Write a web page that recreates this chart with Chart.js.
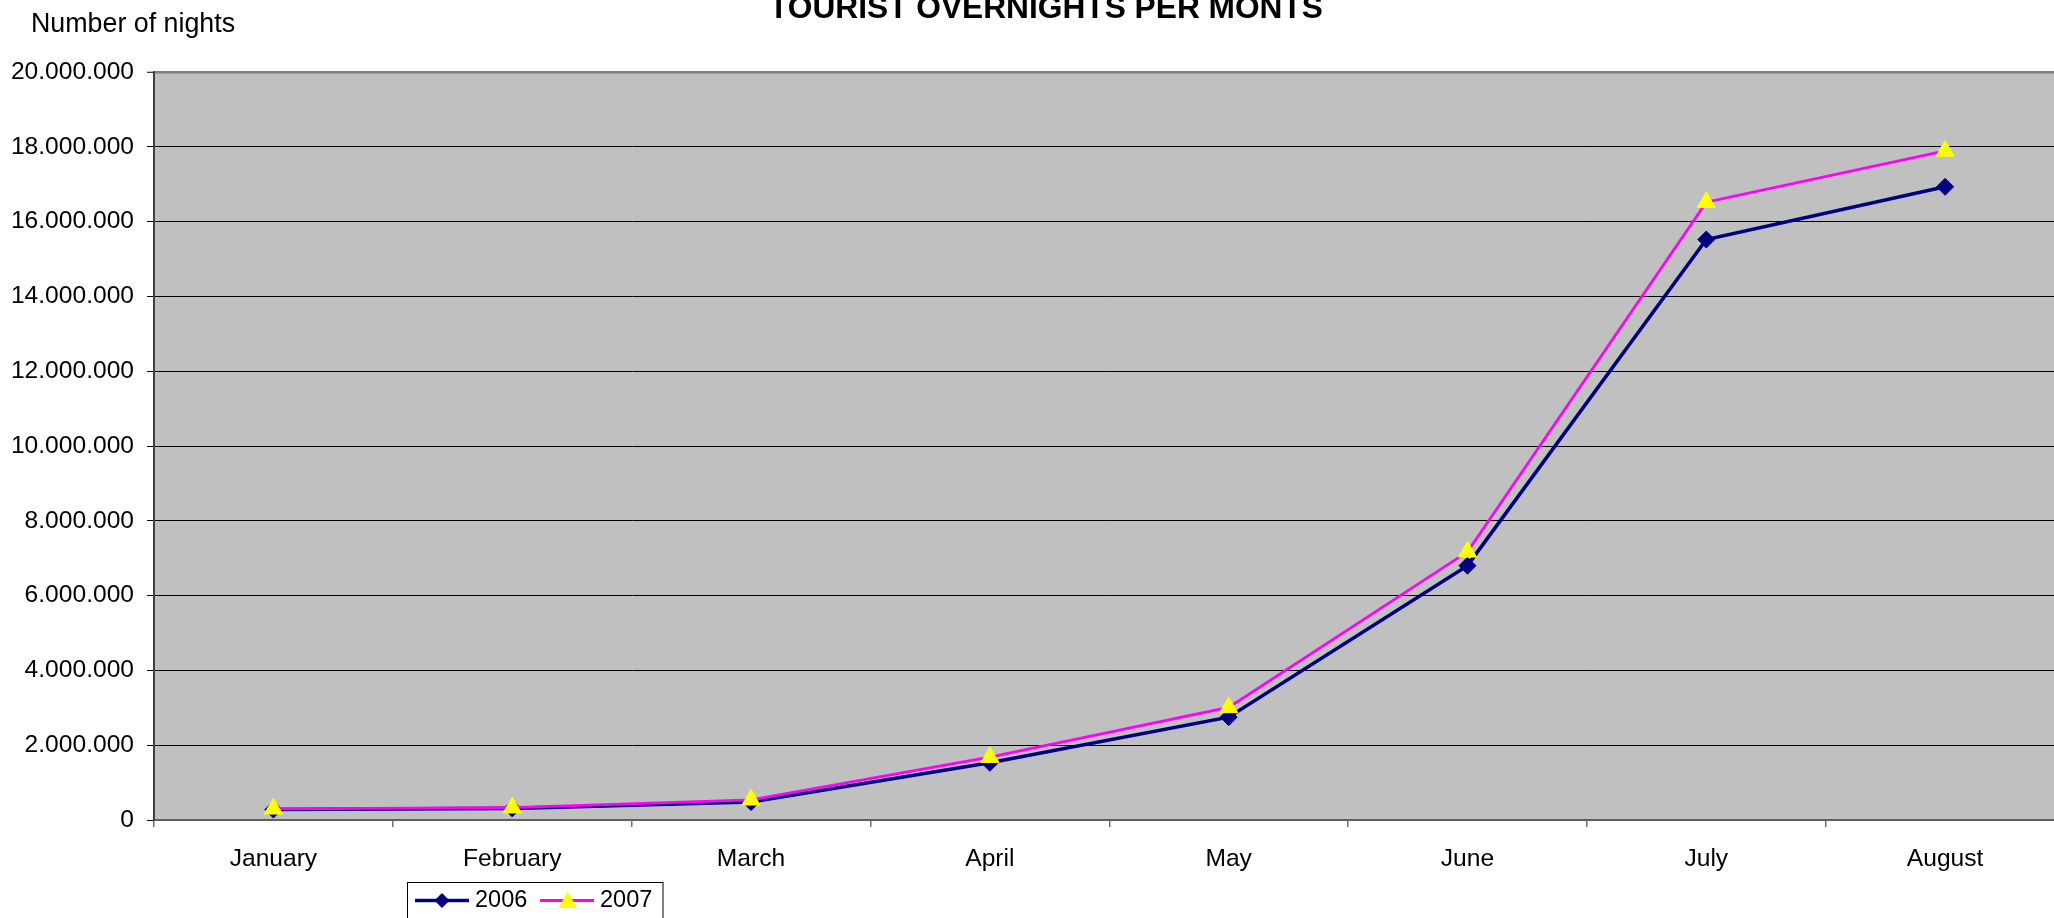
<!DOCTYPE html>
<html>
<head>
<meta charset="utf-8">
<script src="https://cdn.jsdelivr.net/npm/chart.js@4.4.1/dist/chart.umd.min.js"></script>
<style>
  html, body { margin: 0; padding: 0; background: #ffffff; overflow: hidden; }
  #wrap { width: 2080px; height: 918px; }
</style>
</head>
<body>
<div id="wrap"><canvas id="c" width="2080" height="918"></canvas></div>
<script>
// ---- data ----
const months = ['January', 'February', 'March', 'April', 'May', 'June', 'July', 'August'];
const series2006 = [280000, 310000, 480000, 1530000, 2750000, 6800000, 15520000, 16930000];
const series2007 = [300000, 330000, 540000, 1680000, 3010000, 7170000, 16520000, 17890000];
const seriesLabels = ['2006', '2007'];
const chartTitle = 'TOURIST OVERNIGHTS PER MONTS';
const yAxisCaption = 'Number of nights';
const yMin = 0, yMax = 20000000, yStep = 2000000;

const FONT = "'Liberation Sans', Arial, sans-serif";

function fmt(v) {
  return String(v).replace(/\B(?=(\d{3})+(?!\d))/g, '.');
}

function marker(ctx, style, x, y, r) {
  ctx.beginPath();
  if (style === 'triangle') {
    ctx.moveTo(x, y - r);
    ctx.lineTo(x + r * 0.866, y + r / 2);
    ctx.lineTo(x - r * 0.866, y + r / 2);
  } else {
    ctx.moveTo(x - r, y);
    ctx.lineTo(x, y - r);
    ctx.lineTo(x + r, y);
    ctx.lineTo(x, y + r);
  }
  ctx.closePath();
  ctx.fill();
  ctx.stroke();
}

const plotBg = {
  id: 'plotBg',
  beforeDraw(chart) {
    const a = chart.chartArea, ctx = chart.ctx;
    ctx.save();
    ctx.fillStyle = '#C0C0C0';
    ctx.fillRect(a.left, a.top, a.right - a.left, a.bottom - a.top);
    ctx.restore();
  }
};

const texts = {
  id: 'texts',
  afterDraw(chart) {
    const ctx = chart.ctx;
    ctx.save();
    ctx.fillStyle = '#000';
    ctx.textBaseline = 'alphabetic';
    ctx.font = 'bold 31.7px ' + FONT;
    ctx.textAlign = 'center';
    ctx.fillText(chartTitle, 1046, 18.3);
    ctx.font = '26.8px ' + FONT;
    ctx.textAlign = 'left';
    ctx.fillText(yAxisCaption, 31, 31.7);

    // legend box
    ctx.strokeStyle = '#000';
    ctx.lineWidth = 1;
    ctx.strokeRect(407.5, 882.5, 255.5, 60);
    const items = [
      {x0: 415, x1: 469, mx: 442, tx: 475},
      {x0: 540, x1: 594, mx: 567.7, tx: 600}
    ];
    const y = 900.5;
    chart.data.datasets.forEach((ds, i) => {
      const it = items[i];
      ctx.strokeStyle = ds.borderColor;
      ctx.lineWidth = ds.borderWidth;
      ctx.beginPath();
      ctx.moveTo(it.x0, y);
      ctx.lineTo(it.x1, y);
      ctx.stroke();
      ctx.fillStyle = ds.pointBackgroundColor;
      ctx.strokeStyle = ds.pointBorderColor;
      ctx.lineWidth = ds.pointBorderWidth;
      marker(ctx, ds.pointStyle, it.mx, ds.pointStyle === 'triangle' ? y + 2 : y, ds.legendRadius);
      ctx.fillStyle = '#000';
      ctx.font = '23.5px ' + FONT;
      ctx.textAlign = 'left';
      ctx.textBaseline = 'middle';
      ctx.fillText(ds.label, it.tx, y + 0.5);
    });
    ctx.restore();
  }
};

new Chart(document.getElementById('c'), {
  type: 'line',
  data: {
    labels: months,
    datasets: [
      {
        label: seriesLabels[0],
        data: series2006,
        borderColor: '#000080',
        borderWidth: 3.6,
        pointStyle: 'rectRot',
        pointRadius: 8.5,
        pointBackgroundColor: '#000080',
        pointBorderColor: '#000080',
        pointBorderWidth: 1,
        legendRadius: 7,
        tension: 0,
        order: 1
      },
      {
        label: seriesLabels[1],
        data: series2007,
        borderColor: '#FF00FF',
        borderWidth: 2.8,
        pointStyle: 'triangle',
        pointRadius: 10.5,
        pointBackgroundColor: '#FFFF00',
        pointBorderColor: '#FFFF00',
        pointBorderWidth: 1,
        legendRadius: 10,
        tension: 0,
        order: 0
      }
    ]
  },
  options: {
    responsive: false,
    animation: false,
    devicePixelRatio: 1,
    layout: { padding: { left: 0, top: 72, right: 15.5, bottom: 0 } },
    plugins: {
      legend: { display: false },
      title: { display: false },
      tooltip: { enabled: false }
    },
    scales: {
      x: {
        type: 'category',
        offset: true,
        grid: {
          display: true,
          offset: true,
          drawOnChartArea: false,
          drawTicks: true,
          tickLength: 7,
          color: '#707070',
          lineWidth: 1.5
        },
        border: { display: true, color: '#606060', width: 2 },
        ticks: {
          color: '#000',
          font: { family: FONT, size: 24.6 },
          padding: 17,
          maxRotation: 0,
          autoSkip: false
        },
        afterFit(scale) { scale.height = 98; }
      },
      y: {
        min: yMin,
        max: yMax,
        grid: {
          color: (c) => (c.tick && c.tick.value === yMax) ? '#808080' : '#000000',
          lineWidth: (c) => (c.tick && c.tick.value === yMax) ? 2.5 : 1,
          tickColor: '#000000',
          tickLength: 7,
          tickWidth: 1,
          drawTicks: true
        },
        border: { display: true, color: '#404040', width: 2 },
        ticks: {
          stepSize: yStep,
          color: '#000',
          font: { family: FONT, size: 24.6 },
          padding: 13,
          callback: (v) => fmt(v)
        },
        afterFit(scale) { scale.width = 154; }
      }
    }
  },
  plugins: [plotBg, texts]
});
</script>
</body>
</html>
